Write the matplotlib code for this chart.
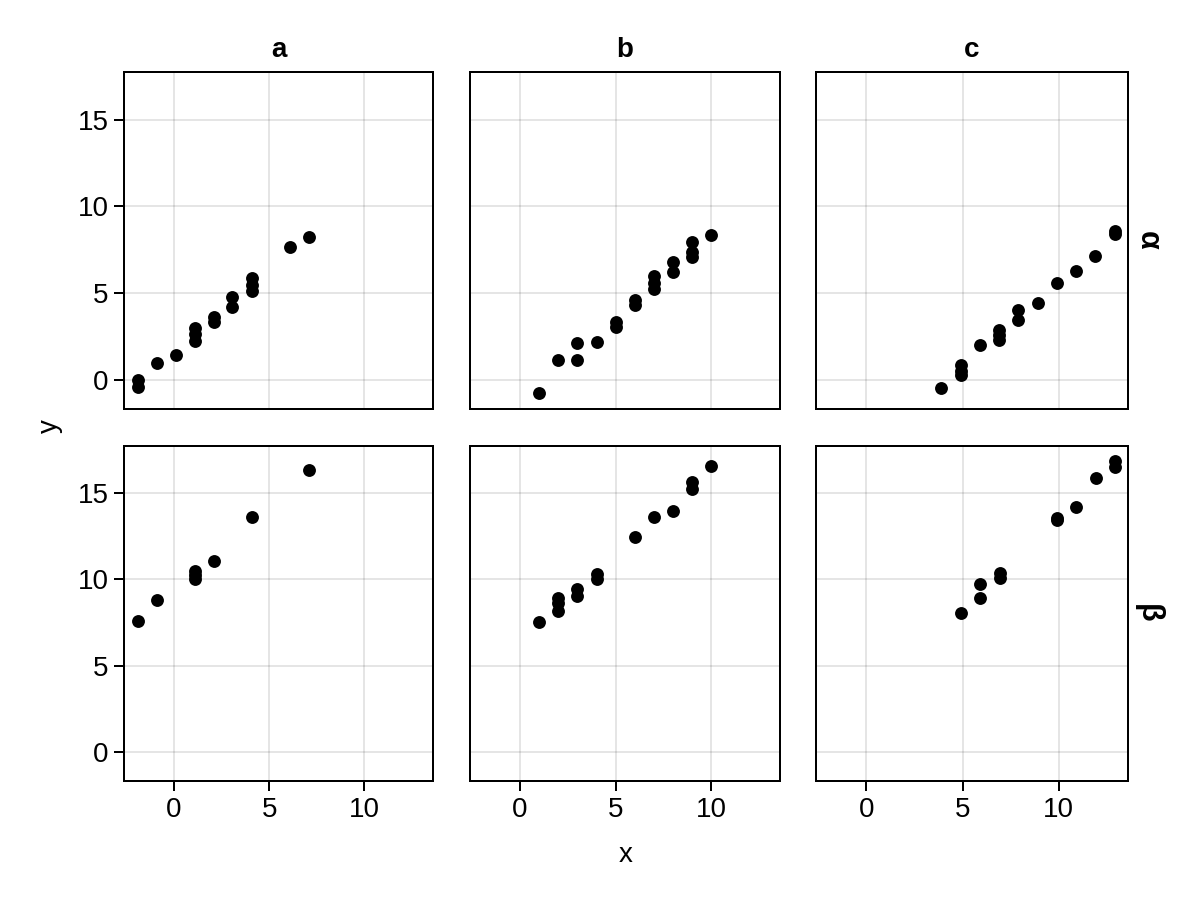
import matplotlib.pyplot as plt

plt.rcParams.update({
    "font.family": ["Liberation Sans", "DejaVu Sans"],
    "font.size": 20,
    "axes.linewidth": 1.44,
    "xtick.major.width": 1.44,
    "ytick.major.width": 1.44,
    "xtick.major.size": 7.2,
    "ytick.major.size": 7.2,
})

columns = ["a", "b", "c"]
rows = ["α", "β"]

# panel a, row alpha
a_alpha_x = [-1.9, -1.9, -0.9, 0.1, 1.1, 1.1, 1.1, 2.1, 2.1, 3.06, 3.06, 4.1, 4.1, 4.1, 6.1, 7.1]
a_alpha_y = [0.0, -0.45, 0.96, 1.42, 3.0, 2.6, 2.25, 3.6, 3.35, 4.79, 4.18, 5.85, 5.45, 5.1, 7.66, 8.2]
# panel b, row alpha
b_alpha_x = [1, 2, 3, 3, 4, 5, 5, 6, 6, 7, 7, 7, 8, 8, 9, 9, 9, 10]
b_alpha_y = [-0.8, 1.11, 2.1, 1.11, 2.18, 3.3, 3.05, 4.6, 4.3, 5.95, 5.6, 5.25, 6.8, 6.19, 7.95, 7.37, 7.09, 8.33]
# panel c, row alpha
c_alpha_x = [3.9, 4.92, 4.92, 4.92, 5.9, 6.9, 6.9, 6.9, 7.9, 7.9, 8.9, 9.9, 10.9, 11.9, 12.92, 12.92]
c_alpha_y = [-0.48, 0.85, 0.5, 0.25, 2.01, 2.87, 2.59, 2.26, 4.02, 3.45, 4.44, 5.59, 6.28, 7.14, 8.42, 8.55]

# panel a, row beta
a_beta_x = [-1.9, -0.9, 1.1, 1.1, 1.1, 2.1, 4.1, 7.1]
a_beta_y = [7.59, 8.79, 10.5, 10.25, 10.0, 11.1, 13.6, 16.35]
# panel b, row beta
b_beta_x = [1, 2, 2, 2, 3, 3, 4, 4, 6, 7, 8, 9, 9, 10]
b_beta_y = [7.56, 8.9, 8.65, 8.15, 9.42, 9.04, 10.3, 10.0, 12.46, 13.6, 14.0, 15.65, 15.25, 16.6]
# panel c, row beta
c_beta_x = [4.92, 5.92, 5.92, 6.92, 6.92, 9.92, 9.92, 10.92, 11.92, 12.92, 12.92]
c_beta_y = [8.05, 9.75, 8.94, 10.35, 10.1, 13.45, 13.55, 14.23, 15.87, 16.9, 16.55]

data = [
    [(a_alpha_x, a_alpha_y), (b_alpha_x, b_alpha_y), (c_alpha_x, c_alpha_y)],
    [(a_beta_x, a_beta_y), (b_beta_x, b_beta_y), (c_beta_x, c_beta_y)],
]

W, H = 1200, 900
col_px = [(124, 433), (470, 780), (816, 1128)]
row_px = [(72, 409), (446, 781)]

fig = plt.figure(figsize=(12, 9), dpi=100)

for r, (top, bot) in enumerate(row_px):
    for c, (lft, rgt) in enumerate(col_px):
        ax = fig.add_axes([lft / W, 1 - bot / H, (rgt - lft) / W, (bot - top) / H])
        xs, ys = data[r][c]
        ax.scatter(xs, ys, s=86, color="black", linewidths=0, zorder=3)
        ax.set_xlim(-2.62, 13.6)
        ax.set_ylim(-1.7, 17.75)
        ax.set_xticks([0, 5, 10])
        ax.set_yticks([0, 5, 10, 15])
        ax.grid(True, color="black", alpha=0.12, lw=1.2)
        ax.set_axisbelow(True)
        ax.tick_params(pad=4)
        if c > 0:
            ax.tick_params(axis="y", left=False, labelleft=False)
        if r == 0:
            ax.tick_params(axis="x", bottom=False, labelbottom=False)

for c, (lft, rgt) in enumerate(col_px):
    fig.text((lft + rgt) / 2 / W, 1 - 50 / H, columns[c], ha="center", va="center",
             fontweight="bold")
for r, (top, bot) in enumerate(row_px):
    fig.text(1148 / W, 1 - (top + bot) / 2 / H, rows[r], ha="center", va="center",
             rotation=-90, fontweight="bold", fontsize=22)

fig.text(50 / W, 1 - 426 / H, "y", ha="center", va="center", rotation=90)
fig.text(626 / W, 1 - 855 / H, "x", ha="center", va="center")

fig.savefig("out.png", dpi=100)
